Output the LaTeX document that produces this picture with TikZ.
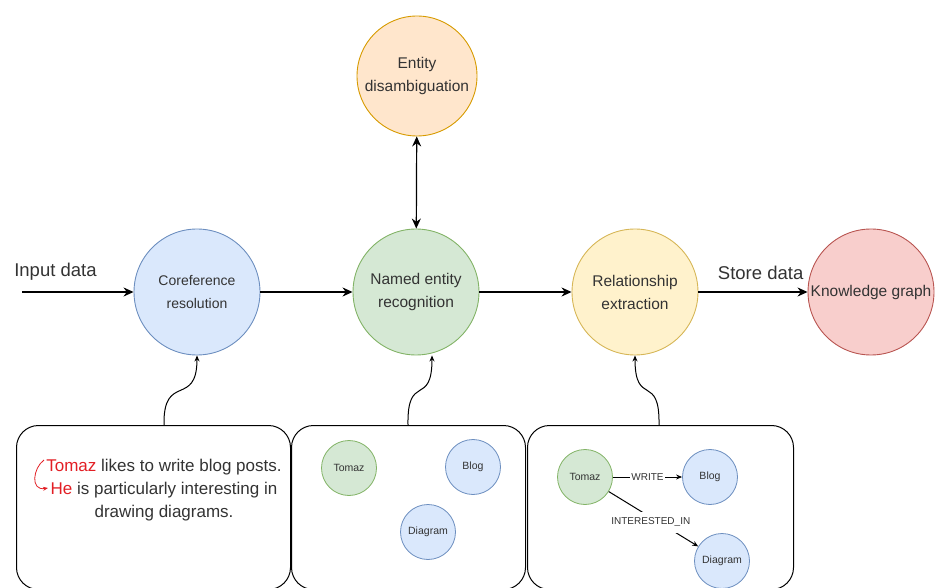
\documentclass[tikz,border=0pt]{standalone}
\usepackage{fontspec}
\setmainfont{Liberation Sans}
\usetikzlibrary{arrows.meta, positioning}
\definecolor{blueline}{HTML}{6C8EBF}
\definecolor{bluefill}{HTML}{DAE8FC}
\definecolor{greenline}{HTML}{82B366}
\definecolor{greenfill}{HTML}{D5E8D4}
\definecolor{yellowline}{HTML}{D6B656}
\definecolor{yellowfill}{HTML}{FFF2CC}
\definecolor{orangeline}{HTML}{D79B00}
\definecolor{orangefill}{HTML}{FFE6CC}
\definecolor{redline}{HTML}{B85450}
\definecolor{redfill}{HTML}{F8CECC}
\definecolor{textgray}{HTML}{333333}
\definecolor{markred}{RGB}{226,30,36}
\tikzset{
  stage/.style={circle, draw, line width=0.9pt, minimum size=126pt,
    inner sep=0pt, align=center, text=textgray,
    font=\fontsize{15.5}{23}\selectfont},
  bluestage/.style={stage, fill=bluefill, draw=blueline},
  greenstage/.style={stage, fill=greenfill, draw=greenline},
  yellowstage/.style={stage, fill=yellowfill, draw=yellowline},
  orangestage/.style={stage, fill=orangefill, draw=orangeline},
  redstage/.style={stage, fill=redfill, draw=redline},
  entity/.style={circle, draw, line width=0.8pt, minimum size=55pt,
    inner sep=0pt, text=textgray, font=\fontsize{10.5}{12}\selectfont},
  person/.style={entity, fill=greenfill, draw=greenline},
  thing/.style={entity, fill=bluefill, draw=blueline},
  panel/.style={draw, rounded corners=22pt, line width=1pt},
  arrow/.style={-{Stealth[length=10pt, width=9pt]}, line width=1.2pt},
  curly/.style={-{Stealth[length=6pt, width=5pt]}, line width=1pt},
  relarrow/.style={-{Stealth[length=6pt, width=5pt]}, line width=1pt},
  steplabel/.style={font=\fontsize{18.5}{22}\selectfont, text=textgray},
  rellabel/.style={fill=white, inner sep=1pt, text=textgray,
    font=\fontsize{10}{12}\selectfont},
}
\begin{document}
\begin{tikzpicture}[x=1pt, y=-1pt]
  \useasboundingbox (0,0) rectangle (935,588);

  %% Pipeline stages
  \node[bluestage, font=\fontsize{14}{23}\selectfont] (coref) at (197,292)
    {Coreference\\resolution};
  \node[greenstage] (ner) at (416,292) {Named entity\\recognition};
  \node[yellowstage] (rel) at (635,292) {Relationship\\extraction};
  \node[redstage] (kg) at (871,292) {Knowledge graph};
  \node[orangestage, minimum size=120pt] (dis) at (417,76)
    {Entity\\disambiguation};

  \coordinate (input) at (22,292);
  \draw[arrow] (input) -- node[steplabel, above=8pt, pos=0.3] {Input data} (coref);
  \draw[arrow] (coref) -- (ner);
  \draw[arrow] (ner) -- (rel);
  \draw[arrow] (rel) -- node[steplabel, above=8pt, pos=0.57] {Store data} (kg);
  \draw[arrow, {Stealth[length=10pt, width=9pt]}-{Stealth[length=10pt, width=9pt]}]
    (dis) -- (ner);

  %% Example panels
  \node[panel, minimum width=274pt, minimum height=164pt, anchor=north west]
    (textbox) at (16,425) {};
  \node[panel, minimum width=234pt, minimum height=164pt, anchor=north west]
    (nerbox) at (291,425) {};
  \node[panel, minimum width=266pt, minimum height=164pt, anchor=north west]
    (relbox) at (527,425) {};

  %% Text panel
  \node[align=center, text=textgray, font=\fontsize{17}{23}\selectfont]
    (sentence) at (164,490)
    {\textcolor{markred}{Tomaz} likes to write blog posts.\\
     \textcolor{markred}{He} is particularly interesting in\\
     drawing diagrams.};
  \coordinate (tomazref) at (44,460);
  \coordinate (heref) at (48,488);
  \draw[markred, -{Stealth[length=5pt, width=4pt]}, line width=0.8pt]
    (tomazref) .. controls (33,468) and (30,491) .. (heref);

  %% Entities panel
  \node[person] (tomaz1) at (349,468) {Tomaz};
  \node[thing] (blog1) at (473,467) {Blog};
  \node[thing] (diagram1) at (428,532) {Diagram};

  %% Relations panel
  \node[person] (tomaz2) at (585,477) {Tomaz};
  \node[thing] (blog2) at (710,477) {Blog};
  \node[thing] (diagram2) at (722,561) {Diagram};
  \draw[relarrow] (tomaz2) -- node[rellabel] {WRITE} (blog2);
  \draw[relarrow] (tomaz2) -- node[rellabel, pos=0.47, yshift=-5pt,
    inner ysep=6pt] {INTERESTED\_IN} (diagram2);

  %% Feeds into the stages
  \coordinate (feed1) at (164,425);
  \coordinate (feed2) at (408,425);
  \coordinate (feed3) at (659,425);
  \draw[curly] (feed1) .. controls (163,372) and (197,408) .. (coref.south);
  \draw[curly] (feed2) .. controls (407,372) and (432,408) .. (ner.south -| 432,0);
  \draw[curly] (feed3) .. controls (660,372) and (635,408) .. (rel.south);
\end{tikzpicture}
\end{document}
